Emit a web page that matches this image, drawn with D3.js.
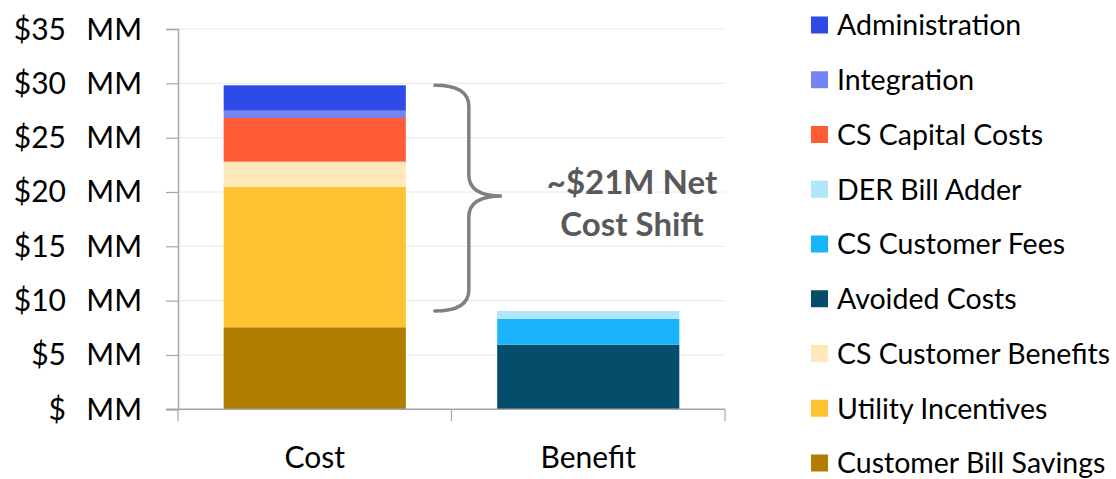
<!DOCTYPE html>
<html>
<head>
<meta charset="utf-8">
<script src="https://cdn.jsdelivr.net/npm/d3@7"></script>
<style>
  html, body { margin: 0; padding: 0; background: #fff; }
  svg text { font-family: Lato, "Open Sans", "Liberation Sans", sans-serif; }
</style>
</head>
<body>
<svg id="chart" width="1116" height="479"></svg>
<script>
// ---- data ----
const categories = ["Cost", "Benefit"];
// stacking order (bottom to top)
const seriesNames = ["Customer Bill Savings", "Utility Incentives", "CS Customer Benefits",
  "Avoided Costs", "CS Customer Fees", "DER Bill Adder",
  "CS Capital Costs", "Integration", "Administration"];
const costValues    = [7.55, 12.94, 2.30, 0, 0, 0, 4.02, 0.67, 2.34];
const benefitValues = [0, 0, 0, 5.95, 2.36, 0.74, 0, 0, 0];
const seriesColors  = ["#b07d00", "#ffc233", "#ffe9bb", "#054d6b", "#1ab4fa", "#b0e6fa",
  "#ff5c35", "#7385f0", "#2e4be8"];
const tickValues = [0, 5, 10, 15, 20, 25, 30, 35];
const tickLabels = ["$ MM", "$5  MM", "$10  MM", "$15  MM", "$20  MM", "$25  MM", "$30  MM", "$35  MM"];
const legendOrder = ["Administration", "Integration", "CS Capital Costs", "DER Bill Adder",
  "CS Customer Fees", "Avoided Costs", "CS Customer Benefits", "Utility Incentives", "Customer Bill Savings"];
const annotationLines = ["~$21M Net", "Cost Shift"];

(function () {
const svg = d3.select("#chart");
const pLeft = 178, pRight = 725, pTop = 29, pBottom = 409.3;
const y = d3.scaleLinear().domain([0, 35]).range([pBottom, pTop]);
const x = d3.scaleBand().domain(categories).range([pLeft, pRight]).paddingInner(0.334).paddingOuter(0.167);
const color = d3.scaleOrdinal().domain(seriesNames).range(seriesColors);

const table = categories.map((c, i) => {
  const row = { category: c };
  seriesNames.forEach((s, j) => row[s] = (i === 0 ? costValues : benefitValues)[j]);
  return row;
});
const stacked = d3.stack().keys(seriesNames)(table);

// gridlines
svg.append("g").selectAll("line").data(tickValues.filter(v => v > 0)).join("line")
  .attr("x1", pLeft).attr("x2", pRight)
  .attr("y1", d => y(d)).attr("y2", d => y(d))
  .attr("stroke", "#ececec").attr("stroke-width", 1.2);

// bars
svg.append("g").selectAll("g").data(stacked).join("g")
  .attr("fill", d => color(d.key))
  .selectAll("rect").data(d => d.filter(p => p[1] - p[0] > 0)).join("rect")
  .attr("x", d => x(d.data.category))
  .attr("width", x.bandwidth())
  .attr("y", d => y(d[1]))
  .attr("height", d => y(d[0]) - y(d[1]));

// y axis
const yAxis = d3.axisLeft(y).tickValues(tickValues).tickSize(12).tickFormat("");
const gy = svg.append("g").attr("transform", `translate(${pLeft},0)`).call(yAxis);
gy.select(".domain").attr("stroke", "#a6a6a6").attr("stroke-width", 1.5);
gy.selectAll(".tick line").attr("stroke", "#a6a6a6").attr("stroke-width", 1.2);
const yl = svg.append("g");
tickValues.forEach((v, i) => {
  const parts = tickLabels[i].split(/\s+/);
  yl.append("text").attr("x", 66).attr("y", y(v)).attr("dy", "0.35em")
    .attr("text-anchor", "end").attr("font-size", 30).attr("fill", "#000").text(parts[0]);
  yl.append("text").attr("x", 142).attr("y", y(v)).attr("dy", "0.35em")
    .attr("text-anchor", "end").attr("font-size", 30).attr("fill", "#000").text(parts[1]);
});

// x axis
const gx = svg.append("g").attr("transform", `translate(0,${pBottom})`);
gx.append("line").attr("x1", pLeft - 12).attr("x2", pRight).attr("stroke", "#a6a6a6").attr("stroke-width", 1.5);
const boundaries = [pLeft, (x("Cost") + x.bandwidth() + x("Benefit")) / 2, pRight];
gx.selectAll("line.tk").data(boundaries).join("line").attr("class", "tk")
  .attr("x1", d => d).attr("x2", d => d).attr("y1", 0).attr("y2", 12)
  .attr("stroke", "#a6a6a6").attr("stroke-width", 1.2);
gx.selectAll("text").data(categories).join("text")
  .attr("x", d => x(d) + x.bandwidth() / 2).attr("y", 59)
  .attr("text-anchor", "middle").attr("font-size", 30).attr("fill", "#000").text(d => d);

// brace annotation
const yTop = y(d3.sum(costValues)), yBot = y(d3.sum(benefitValues));
const bx0 = x("Cost") + x.bandwidth() + 29, bx1 = bx0 + 34, bxTip = bx0 + 67;
const yMid = (yTop + yBot) / 2 - 2;
const r = 21;
const brace = d3.path();
brace.moveTo(bx0, yTop);
brace.quadraticCurveTo(bx1, yTop, bx1, yTop + r);
brace.lineTo(bx1, yMid - r);
brace.quadraticCurveTo(bx1, yMid, bxTip, yMid);
brace.quadraticCurveTo(bx1, yMid, bx1, yMid + r);
brace.lineTo(bx1, yBot - r);
brace.quadraticCurveTo(bx1, yBot, bx0, yBot);
svg.append("path").attr("d", brace.toString()).attr("fill", "none")
  .attr("stroke", "#808080").attr("stroke-width", 3.5).attr("stroke-linecap", "round");

svg.append("g").selectAll("text").data(annotationLines).join("text")
  .attr("x", 632).attr("y", (d, i) => 194 + i * 42)
  .attr("text-anchor", "middle").attr("font-size", 33).attr("font-weight", "bold")
  .attr("fill", "#595959").text(d => d);

// legend
const lg = svg.append("g").attr("transform", "translate(811,0)");
const rows = lg.selectAll("g").data(legendOrder).join("g")
  .attr("transform", (d, i) => `translate(0,${25 + i * 54.75})`);
rows.append("rect").attr("x", 0).attr("y", -8.5).attr("width", 17).attr("height", 17)
  .attr("fill", d => color(d));
const maxW = 1110 - 837;
rows.append("text").attr("x", 26).attr("y", 0).attr("dy", "0.36em")
  .attr("font-size", 28.5).attr("fill", "#000").text(d => d)
  .each(function () {
    if (this.getComputedTextLength() > maxW) {
      d3.select(this).attr("textLength", maxW).attr("lengthAdjust", "spacingAndGlyphs");
    }
  });
})();
</script>
</body>
</html>
